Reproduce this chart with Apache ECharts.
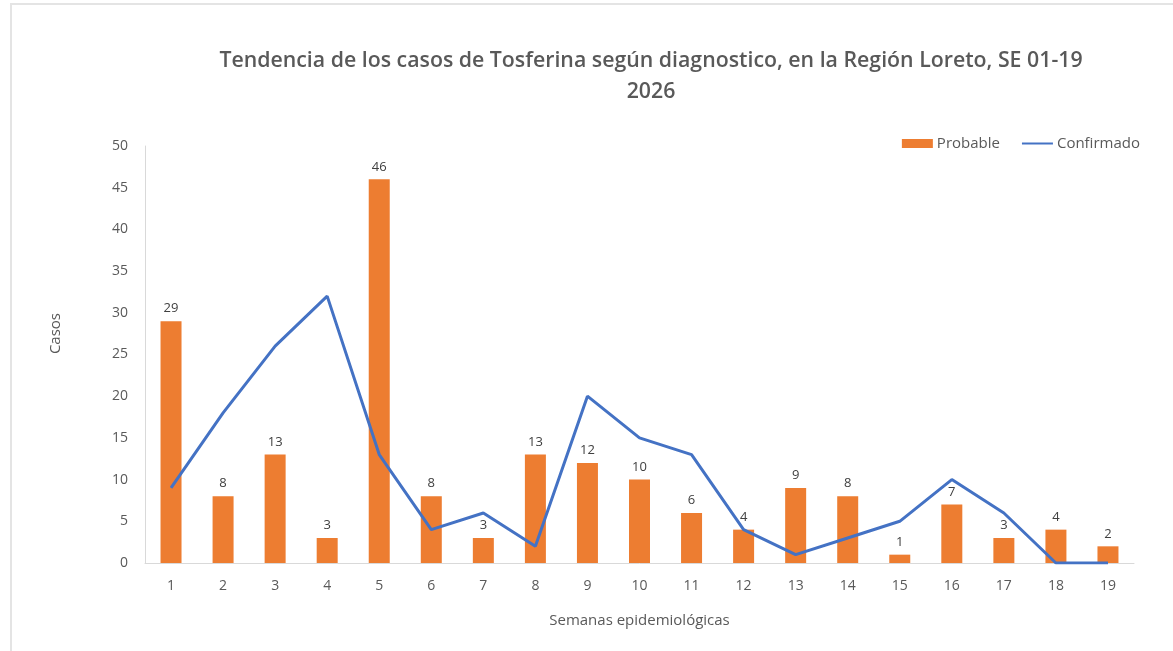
<!DOCTYPE html>
<html>
<head>
<meta charset="utf-8">
<script src="https://cdn.jsdelivr.net/npm/echarts@6/dist/echarts.min.js"></script>
<style>
  html, body { margin: 0; padding: 0; background: #fff; }
  #frame {
    position: absolute; left: 10px; top: 3px; width: 1180px; height: 660px;
    border-left: 2px solid #e4e4e4; border-top: 2px solid #e4e4e4;
  }
  #chart { position: absolute; left: 0; top: 0; width: 1173px; height: 651px; }
</style>
</head>
<body>
<div id="frame"></div>
<div id="chart"></div>
<script>
// semanas epidemiológicas
const weeks = ['1', '2', '3', '4', '5', '6', '7', '8', '9', '10', '11', '12', '13', '14', '15', '16', '17', '18', '19']
const probable = [29, 8, 13, 3, 46, 8, 3, 13, 12, 10, 6, 4, 9, 8, 1, 7, 3, 4, 2]
const confirmado = [9, 18, 26, 32, 13, 4, 6, 2, 20, 15, 13, 4, 1, 3, 5, 10, 6, 0, 0]
const yTicks = { min: 0, max: 50, interval: 5 }

const font = 'Open Sans'
const chart = echarts.init(document.getElementById('chart'))

chart.setOption({
  animation: false,
  textStyle: { fontFamily: font },
  title: {
    text: 'Tendencia de los casos de Tosferina según diagnostico, en la Región Loreto, SE 01-19\n2026',
    left: 646,
    textAlign: 'center',
    top: 40,
    textStyle: {
      fontFamily: font,
      fontSize: 21.3,
      fontWeight: 600,
      color: '#595959',
      lineHeight: 31
    }
  },
  // nombre del eje Y (un poco por encima del centro, como en el original)
  graphic: [
    {
      type: 'text',
      left: 48,
      top: 313,
      rotation: Math.PI / 2,
      style: {
        text: 'Casos',
        fontFamily: font,
        fontSize: 15,
        fill: '#595959'
      }
    }
  ],
  legend: {
    right: 28,
    top: 131,
    itemGap: 21,
    itemWidth: 31,
    itemHeight: 9,
    textStyle: { color: '#595959', fontSize: 15, fontFamily: font, padding: [0, 0, 0, -1] },
    data: [
      { name: 'Probable', icon: 'rect' },
      { name: 'Confirmado', itemStyle: { opacity: 0 } }
    ]
  },
  grid: {
    left: 145,
    right: 39,
    top: 146,
    bottom: 88
  },
  xAxis: {
    type: 'category',
    data: weeks,
    name: 'Semanas epidemiológicas',
    nameLocation: 'middle',
    nameGap: 50,
    nameTextStyle: { color: '#595959', fontSize: 15 },
    axisLine: { lineStyle: { color: '#d9d9d9', width: 1 } },
    axisTick: { show: false },
    axisLabel: { color: '#595959', fontSize: 14, margin: 16 }
  },
  yAxis: {
    type: 'value',
    min: yTicks.min,
    max: yTicks.max,
    interval: yTicks.interval,
    axisLine: { show: true, lineStyle: { color: '#d9d9d9', width: 1 } },
    axisTick: { show: false },
    splitLine: { show: false },
    axisLabel: { color: '#595959', fontSize: 14, margin: 17 }
  },
  series: [
    {
      name: 'Probable',
      type: 'bar',
      data: probable,
      barWidth: 21,
      itemStyle: { color: '#ed7d31' },
      label: {
        show: true,
        position: 'top',
        distance: 6,
        color: '#404040',
        fontSize: 13
      },
      z: 1
    },
    {
      name: 'Confirmado',
      type: 'line',
      data: confirmado,
      symbol: 'none',
      lineStyle: { color: '#4472c4', width: 3 },
      itemStyle: { color: '#4472c4' },
      z: 3
    }
  ]
})
</script>
</body>
</html>
